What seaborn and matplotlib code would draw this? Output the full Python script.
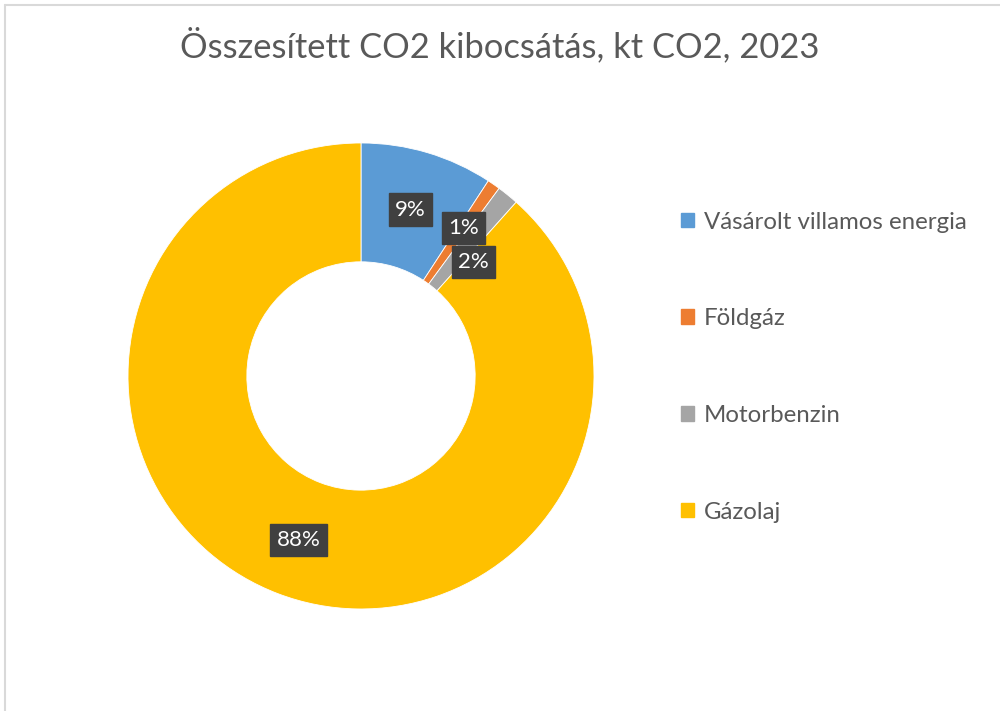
import numpy as np
import matplotlib
matplotlib.use("Agg")
import matplotlib.pyplot as plt
import seaborn as sns
from matplotlib.patches import Patch
from matplotlib.lines import Line2D

categories = ["Vásárolt villamos energia", "Földgáz", "Motorbenzin", "Gázolaj"]
values = [9.2, 0.9, 1.5, 88.4]
pct_labels = ["9%", "1%", "2%", "88%"]
colors = ["#5B9BD5", "#ED7D31", "#A5A5A5", "#FFC000"]
title = "Összesített CO2 kibocsátás, kt CO2, 2023"

sns.set_theme(style="white")
plt.rcParams['font.family'] = ['Lato', 'DejaVu Sans']

fig = plt.figure(figsize=(10, 7.11), dpi=100)
fig.patch.set_facecolor("white")

ax = fig.add_axes([0.128, 0.1435, 0.466, 0.6554])
wedges, _ = ax.pie(values, colors=colors, startangle=90, counterclock=False,
                   radius=1.0, wedgeprops=dict(width=0.51, edgecolor="white", linewidth=0.6))
ax.set_xlim(-1, 1)
ax.set_ylim(-1, 1)
ax.set_aspect("equal")
ax.axis("off")

# data labels at mid-angle of each wedge
label_r = [0.745, 0.773, 0.686, 0.754]
angle_shift = [0, 0, 5.5, 0]
for w, lab, r, sh in zip(wedges, pct_labels, label_r, angle_shift):
    mid = np.deg2rad((w.theta1 + w.theta2) / 2 - sh)
    ax.text(r * np.cos(mid), r * np.sin(mid), lab, ha="center", va="center",
            fontsize=16, color="white",
            bbox=dict(boxstyle="square,pad=0.28", facecolor="#404040", edgecolor="#404040"))

fig.text(0.5, 0.936, title, ha="center", va="center", fontsize=24.8, color="#595959")

handles = [Patch(facecolor=c, edgecolor=c) for c in colors]
leg = fig.legend(handles, categories, loc="upper left", bbox_to_anchor=(0.681, 0.7025),
                 frameon=False, fontsize=17.3, labelcolor="#595959",
                 handlelength=0.55, handleheight=0.55, handletextpad=0.4,
                 labelspacing=3.15, borderaxespad=0, borderpad=0)

# chart area border (top and left visible)
fig.add_artist(Line2D([0.005, 1.0], [1 - 5 / 711, 1 - 5 / 711], transform=fig.transFigure,
                      color="#D9D9D9", linewidth=1.5))
fig.add_artist(Line2D([0.005, 0.005], [0.0, 1 - 5 / 711], transform=fig.transFigure,
                      color="#D9D9D9", linewidth=1.5))

fig.savefig("out.png", dpi=100, facecolor="white")
